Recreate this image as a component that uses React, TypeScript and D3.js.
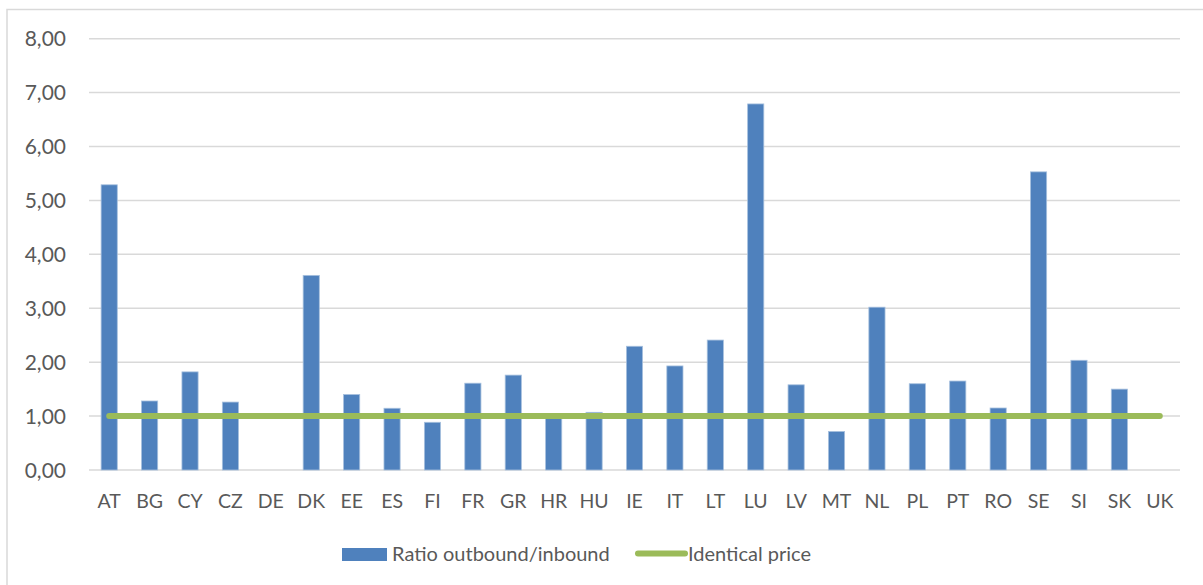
import React from "react";
import * as d3 from "d3";

const countries = ["AT","BG","CY","CZ","DE","DK","EE","ES","FI","FR","GR","HR","HU","IE","IT","LT","LU","LV","MT","NL","PL","PT","RO","SE","SI","SK","UK"];
const ratios: (number | null)[] = [5.29,1.28,1.82,1.26,null,3.61,1.40,1.145,0.885,1.61,1.76,0.99,1.07,2.295,1.93,2.41,6.79,1.58,0.715,3.02,1.60,1.65,1.15,5.53,2.035,1.50,null];
const identicalPrice = 1;
const yTicks = [0,1,2,3,4,5,6,7,8];

const W = 1203, H = 585;
const plot = { left: 89, right: 1180, top: 38.7, bottom: 470 };
const FONT = "Lato, 'Open Sans', sans-serif";
const TEXT = "#595959";
const BAR = "#4F81BD";
const LINE = "#9BBB59";

export default function App() {
  const band = d3.scaleBand<string>().domain(countries).range([plot.left, plot.right]);
  const y = d3.scaleLinear().domain([0, 8]).range([plot.bottom, plot.top]);
  const fmt = (v: number) => v.toFixed(2).replace(".", ",");
  const cx = (c: string) => (band(c) as number) + band.bandwidth() / 2;
  const bw = band.bandwidth() / 2.5;

  const line = d3.line<string>().x(cx).y(() => y(identicalPrice));

  return (
    <svg width={W} height={H} style={{ position: "absolute", left: 0, top: 0 }} fontFamily={FONT}>
      <rect x={0} y={0} width={W} height={H} fill="#fff" />
      <rect x={7} y={9.5} width={W} height={H} fill="none" stroke="#D9D9D9" strokeWidth={1.5} />
      {yTicks.map((t) => (
        <g key={t}>
          <line x1={plot.left} x2={plot.right} y1={y(t)} y2={y(t)} stroke="#D9D9D9" strokeWidth={1.5} />
          <text x={66} y={y(t)} dy="0.36em" textAnchor="end" fontSize={21} fill={TEXT}>{fmt(t)}</text>
        </g>
      ))}
      {countries.map((c, i) => {
        const v = ratios[i];
        return (
          <g key={c}>
            {v != null && (
              <rect x={cx(c) - bw / 2} y={y(v)} width={bw} height={y(0) - y(v)} fill={BAR} stroke="#A7C0DE" strokeWidth={0.8} />
            )}
            <text x={cx(c)} y={508} textAnchor="middle" fontSize={19.5} fill={TEXT}>{c}</text>
          </g>
        );
      })}
      <path d={line(countries) || ""} fill="none" stroke={LINE} strokeWidth={6} strokeLinecap="round" />
      <g>
        <rect x={342} y={548} width={45} height={13} fill={BAR} />
        <text x={392} y={561} fontSize={20} fill={TEXT}>Ratio outbound/inbound</text>
        <line x1={638} x2={685} y1={553.5} y2={553.5} stroke={LINE} strokeWidth={6} strokeLinecap="round" />
        <text x={688} y={561} fontSize={20} fill={TEXT}>Identical price</text>
      </g>
    </svg>
  );
}
